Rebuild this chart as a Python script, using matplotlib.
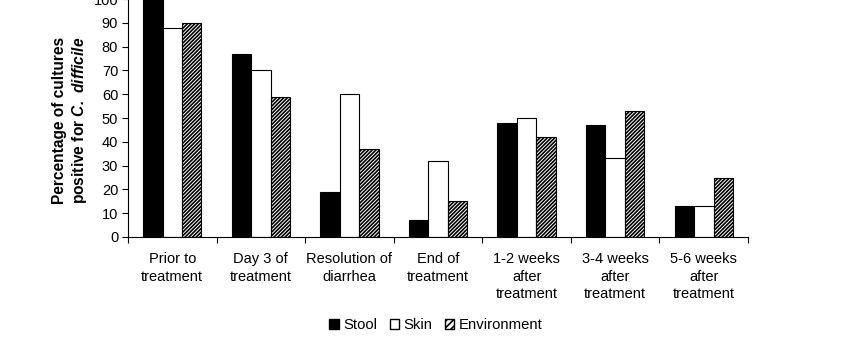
import numpy as np
import matplotlib.pyplot as plt
from matplotlib.patches import Patch

plt.rcParams['font.family'] = ['Liberation Sans', 'DejaVu Sans']
plt.rcParams['mathtext.fontset'] = 'custom'
plt.rcParams['mathtext.bfit'] = 'Liberation Sans:italic:bold'
plt.rcParams['hatch.linewidth'] = 1.2

categories = ['Prior to\ntreatment', 'Day 3 of\ntreatment', 'Resolution of\ndiarrhea',
              'End of\ntreatment', '1-2 weeks\nafter\ntreatment',
              '3-4 weeks\nafter\ntreatment', '5-6 weeks\nafter\ntreatment']
stool = [100, 77, 19, 7, 48, 47, 13]
skin = [88, 70, 60, 32, 50, 33, 13]
environment = [90, 59, 37, 15, 42, 53, 25]

fig = plt.figure(figsize=(8.53, 3.51), dpi=100)
ax = fig.add_axes([0.150, 0.3248, 0.727, 0.678])

x = np.arange(len(categories))
w = 0.22
hatch = '/////////'
ax.bar(x - w, stool, w, color='black', edgecolor='black', linewidth=0.8, label='Stool')
ax.bar(x, skin, w, color='white', edgecolor='black', linewidth=0.8, label='Skin')
ax.bar(x + w, environment, w, color='white', edgecolor='black', linewidth=0.8,
       hatch=hatch, label='Environment')

ax.set_xlim(-0.5, len(categories) - 0.5)
ax.set_ylim(0, 100)
ax.set_yticks(np.arange(0, 101, 10))
ax.tick_params(axis='y', labelsize=10.5, direction='out', length=4, width=0.8, pad=3)

# ticks at the category boundaries, labels at the centres
ax.set_xticks(np.arange(-0.5, len(categories), 1))
ax.set_xticklabels([])
ax.set_xticks(x, minor=True)
ax.set_xticklabels(categories, minor=True, fontsize=10.5, linespacing=1.3, va='top')
ax.tick_params(axis='x', which='major', direction='out', length=4, width=0.8)
ax.tick_params(axis='x', which='minor', length=0, pad=11)

for s in ['top', 'right']:
    ax.spines[s].set_visible(False)
for s in ['left', 'bottom']:
    ax.spines[s].set_linewidth(0.8)

fig.text(60 / 853, 1 - 120 / 351, 'Percentage of cultures', rotation=90,
         fontsize=11.2, fontweight='bold', ha='center', va='center')
fig.text(80 / 853, 1 - 120 / 351, r'positive for $\mathbfit{C.\ difficile}$', rotation=90,
         fontsize=11.2, fontweight='bold', ha='center', va='center')

handles = [Patch(facecolor='black', edgecolor='black', label='Stool'),
           Patch(facecolor='white', edgecolor='black', label='Skin'),
           Patch(facecolor='white', edgecolor='black', hatch='/////', label='Environment')]
fig.legend(handles=handles, loc='center', bbox_to_anchor=(436 / 853, 1 - 325 / 351),
           ncol=3, frameon=False, fontsize=10.7, handlelength=0.65, handleheight=0.65,
           handletextpad=0.3, columnspacing=0.8)

fig.savefig('out.png', dpi=100)
